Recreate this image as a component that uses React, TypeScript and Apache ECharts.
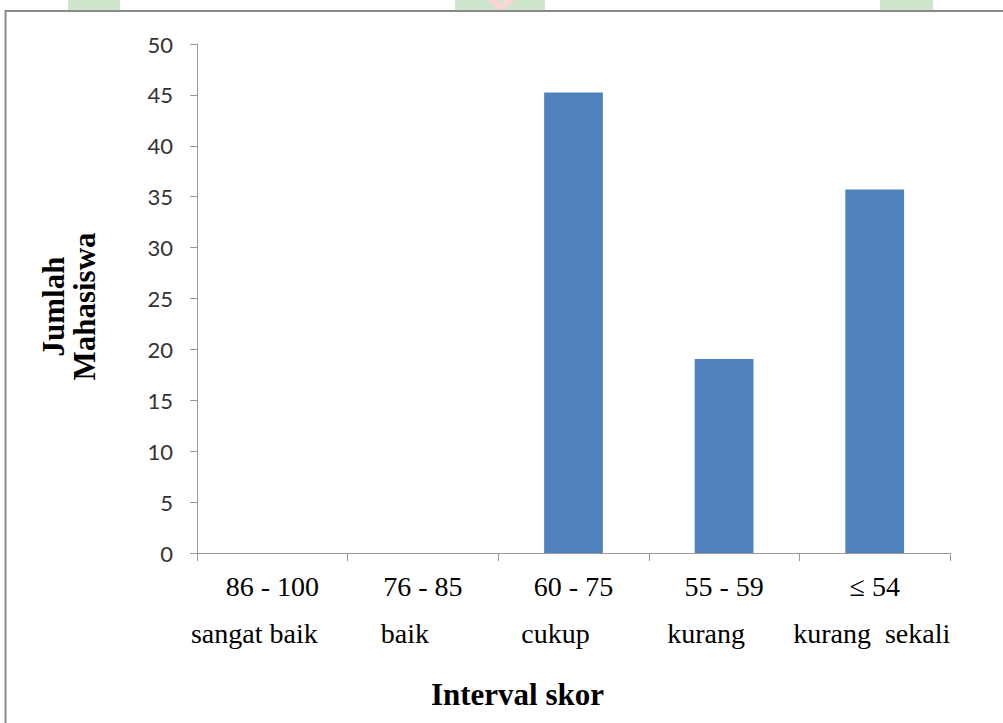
import React, { useEffect, useRef } from "react";
import * as echarts from "echarts";

const categories = ["86 - 100", "76 - 85", "60 - 75", "55 - 59", "≤ 54"];
const grades = ["sangat baik", "baik", "cukup", "kurang", "kurang  sekali"];
const values = [0, 0, 45.24, 19.05, 35.71];
const yTicks = { min: 0, max: 50, interval: 5 };

export default function App() {
  const ref = useRef<HTMLDivElement>(null);
  useEffect(() => {
    if (!ref.current) return;
    const chart = echarts.init(ref.current, undefined, { renderer: "svg" });
    const rich: Record<string, any> = {
      a: { fontFamily: "Liberation Serif", fontSize: 28, color: "#000", lineHeight: 47 },
    };
    const shifts = [36, 36, 36, 36, 6];
    shifts.forEach((s, i) => {
      rich["b" + i] = { fontFamily: "Liberation Serif", fontSize: 28, color: "#000", lineHeight: 47, padding: [0, s, 0, 0] };
    });
    chart.setOption({
      animation: false,
      backgroundColor: "#fff",
      graphic: [
        { type: "rect", shape: { x: 68, y: 0, width: 52, height: 11 }, style: { fill: "#cfe6ce" } },
        { type: "rect", shape: { x: 455, y: 0, width: 90, height: 11 }, style: { fill: "#cfe6ce" } },
        { type: "polygon", shape: { points: [[487, 0], [497, 0], [501, 6], [505, 0], [515, 0], [501, 11]] }, style: { fill: "#ffd3d6" } },
        { type: "rect", shape: { x: 880, y: 0, width: 53, height: 11 }, style: { fill: "#cfe6ce" } },
        { type: "rect", shape: { x: 5.5, y: 11, width: 1100, height: 800 }, style: { fill: "none", stroke: "#8a8a8a", lineWidth: 2 } },
      ],
      grid: { left: 197, right: 53, top: 44, bottom: 170 },
      xAxis: {
        type: "category",
        data: categories,
        boundaryGap: true,
        axisLine: { show: true, lineStyle: { color: "#999", width: 1 } },
        axisTick: { show: true, alignWithLabel: false, length: 8, lineStyle: { color: "#999" } },
        axisLabel: {
          interval: 0,
          margin: 10,
          formatter: (v: string, i: number) => `{a|${v}}\n{b${i}|${grades[i]}}`,
          rich,
        },
        name: "Interval skor",
        nameLocation: "middle",
        nameGap: 126,
        nameTextStyle: { fontFamily: "Liberation Serif", fontSize: 31, fontWeight: "bold", color: "#000", padding: [0, 112, 0, 0] },
      },
      yAxis: {
        type: "value",
        min: yTicks.min,
        max: yTicks.max,
        interval: yTicks.interval,
        axisLine: { show: true, lineStyle: { color: "#999", width: 1 } },
        axisTick: { show: true, length: 7, lineStyle: { color: "#999" } },
        splitLine: { show: false },
        axisLabel: { fontFamily: "Lato", fontSize: 22, color: "#333", margin: 24 },
        name: "Jumlah\nMahasiswa",
        nameLocation: "middle",
        nameRotate: 90,
        nameGap: 97,
        nameTextStyle: { fontFamily: "Liberation Serif", fontSize: 31, fontWeight: "bold", color: "#000", lineHeight: 31, padding: [0, 16, 0, 0] },
      },
      series: [
        {
          type: "bar",
          data: values,
          barWidth: "39%",
          itemStyle: { color: "#4f81bd" },
        },
      ],
    });
    return () => chart.dispose();
  }, []);
  return <div ref={ref} style={{ position: "fixed", left: 0, top: 0, width: 1003, height: 723 }} />;
}
